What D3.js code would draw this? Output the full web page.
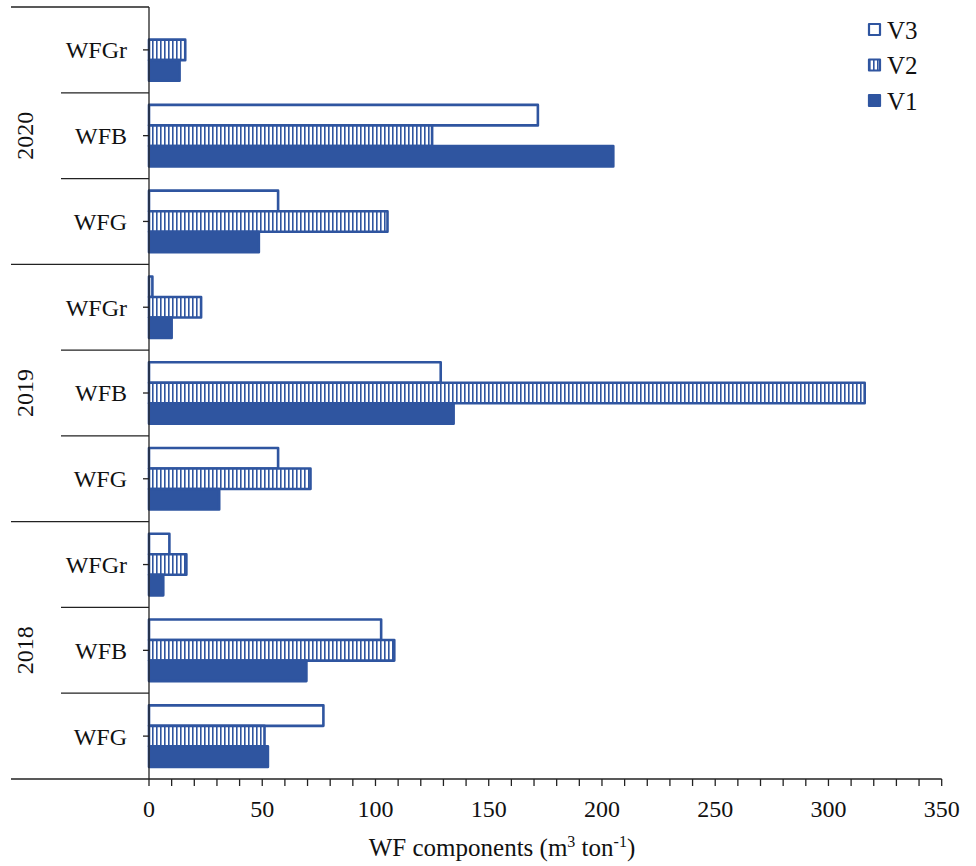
<!DOCTYPE html>
<html>
<head>
<meta charset="utf-8">
<script src="https://cdn.jsdelivr.net/npm/d3@7"></script>
<style>
  html, body { margin: 0; padding: 0; background: #fff; }
  svg { display: block; font-family: "Liberation Serif", "Times New Roman", serif; }
</style>
</head>
<body>
<svg id="chart" width="976" height="866"></svg>
<script>
// Rows run top to bottom: each year holds three water-footprint components
const years = ["2020", "2019", "2018"];
const components = ["WFGr", "WFB", "WFG"];
const seriesNames = ["V3", "V2", "V1"];

// Values per row (2020 WFGr, WFB, WFG, 2019 ..., 2018 ...)
const v3 = [0, 171.7, 57.0, 1.5, 128.8, 57.0, 9.0, 102.5, 77.0];
const v2 = [16.0, 125.0, 105.3, 23.0, 316.0, 71.3, 16.5, 108.3, 51.0];
const v1 = [13.5, 205.0, 48.5, 10.0, 134.5, 31.0, 6.3, 69.5, 52.5];

const xTicks = [0, 50, 100, 150, 200, 250, 300, 350];

const blue = "#2f55a0";
const ink = "#222";
const fontSize = 24;

const rows = [];
years.forEach(y => components.forEach(c => rows.push({ year: y, comp: c, key: y + "-" + c })));
rows.forEach((r, i) => { r.V3 = v3[i]; r.V2 = v2[i]; r.V1 = v1[i]; });

const svg = d3.select("#chart");

const x = d3.scaleLinear().domain([0, 350]).range([149, 941.7]);
const y = d3.scaleBand().domain(rows.map(r => r.key)).range([7, 779]).padding(0);
const inner = d3.scaleBand().domain(seriesNames).range([0, y.bandwidth()])
  .paddingInner(0).paddingOuter(0.59);

// Vertical-stripe pattern for V2
const defs = svg.append("defs");
const pat = defs.append("pattern").attr("id", "stripes")
  .attr("patternUnits", "userSpaceOnUse").attr("width", 4).attr("height", 4);
pat.append("rect").attr("width", 4).attr("height", 4).attr("fill", "#fff");
pat.append("rect").attr("x", 0).attr("width", 1.6).attr("height", 4).attr("fill", blue);

const fills = { V3: "#fff", V2: "url(#stripes)", V1: blue };

// Bars
const barG = svg.append("g");
seriesNames.forEach(s => {
  barG.selectAll(null)
    .data(rows.filter(r => r[s] > 0))
    .join("rect")
    .attr("x", x(0))
    .attr("y", d => y(d.key) + inner(s))
    .attr("width", d => x(d[s]) - x(0))
    .attr("height", inner.bandwidth())
    .attr("fill", fills[s])
    .attr("stroke", blue)
    .attr("stroke-width", 2.6)
    .attr("stroke-linejoin", "round");
});

// X axis with minor ticks every 10
const xAxisG = svg.append("g").attr("transform", "translate(0,779)");
xAxisG.append("line").attr("x1", x(0)).attr("x2", x(350))
  .attr("stroke", ink).attr("stroke-width", 1.3);
xAxisG.selectAll("line.tick")
  .data(d3.range(0, 351, 10))
  .join("line").attr("class", "tick")
  .attr("x1", d => x(d)).attr("x2", d => x(d))
  .attr("y1", 0).attr("y2", 7)
  .attr("stroke", ink).attr("stroke-width", 1.3);
xAxisG.selectAll("text")
  .data(xTicks)
  .join("text")
  .attr("x", d => x(d)).attr("y", 38)
  .attr("text-anchor", "middle")
  .attr("font-size", fontSize).attr("fill", "#111")
  .text(d => d);

// X axis title
const title = svg.append("text").attr("x", 502).attr("y", 856)
  .attr("text-anchor", "middle").attr("font-size", 25).attr("fill", "#111");
title.append("tspan").text("WF components (m");
title.append("tspan").attr("font-size", 16).attr("dy", -9).text("3");
title.append("tspan").attr("dy", 9).text(" ton");
title.append("tspan").attr("font-size", 16).attr("dy", -9).text("-1");
title.append("tspan").attr("dy", 9).text(")");

// Y axis line
svg.append("line").attr("x1", x(0)).attr("x2", x(0))
  .attr("y1", 7).attr("y2", 779).attr("stroke", ink).attr("stroke-width", 1.3);

// Row boundaries: long lines between years, short lines between components
const boundaries = d3.range(rows.length + 1).map(i => ({
  yPos: 7 + i * y.step(),
  long: i % components.length === 0
}));
svg.append("g").selectAll("line")
  .data(boundaries)
  .join("line")
  .attr("x1", d => d.long ? 11 : 61)
  .attr("x2", x(0))
  .attr("y1", d => d.yPos).attr("y2", d => d.yPos)
  .attr("stroke", ink).attr("stroke-width", 1.3);

// Row ticks and component labels
const rowG = svg.append("g");
rowG.selectAll("line")
  .data(rows)
  .join("line")
  .attr("x1", x(0) - 6).attr("x2", x(0))
  .attr("y1", d => y(d.key) + y.bandwidth() / 2)
  .attr("y2", d => y(d.key) + y.bandwidth() / 2)
  .attr("stroke", ink).attr("stroke-width", 1.3);
rowG.selectAll("text")
  .data(rows)
  .join("text")
  .attr("x", 127)
  .attr("y", d => y(d.key) + y.bandwidth() / 2)
  .attr("dy", "0.35em")
  .attr("text-anchor", "end")
  .attr("font-size", fontSize).attr("fill", "#111")
  .text(d => d.comp);

// Year labels, rotated
svg.append("g").selectAll("text")
  .data(years)
  .join("text")
  .attr("transform", yr => {
    const top = y(yr + "-" + components[0]);
    const bottom = y(yr + "-" + components[components.length - 1]) + y.bandwidth();
    return `translate(25,${(top + bottom) / 2}) rotate(-90)`;
  })
  .attr("dy", "0.35em")
  .attr("text-anchor", "middle")
  .attr("font-size", fontSize).attr("fill", "#111")
  .text(yr => yr);

// Legend
const legend = svg.append("g");
const legendItems = legend.selectAll("g")
  .data(seriesNames)
  .join("g")
  .attr("transform", (d, i) => `translate(869,${30 + i * 35.5})`);
legendItems.append("rect")
  .attr("x", 0).attr("y", -6).attr("width", 11).attr("height", 11)
  .attr("fill", d => fills[d])
  .attr("stroke", blue).attr("stroke-width", 2.2)
  .attr("stroke-linejoin", "round");
legendItems.append("text")
  .attr("x", 18).attr("y", 0).attr("dy", "0.35em")
  .attr("font-size", 25).attr("fill", "#111")
  .text(d => d);
</script>
</body>
</html>
